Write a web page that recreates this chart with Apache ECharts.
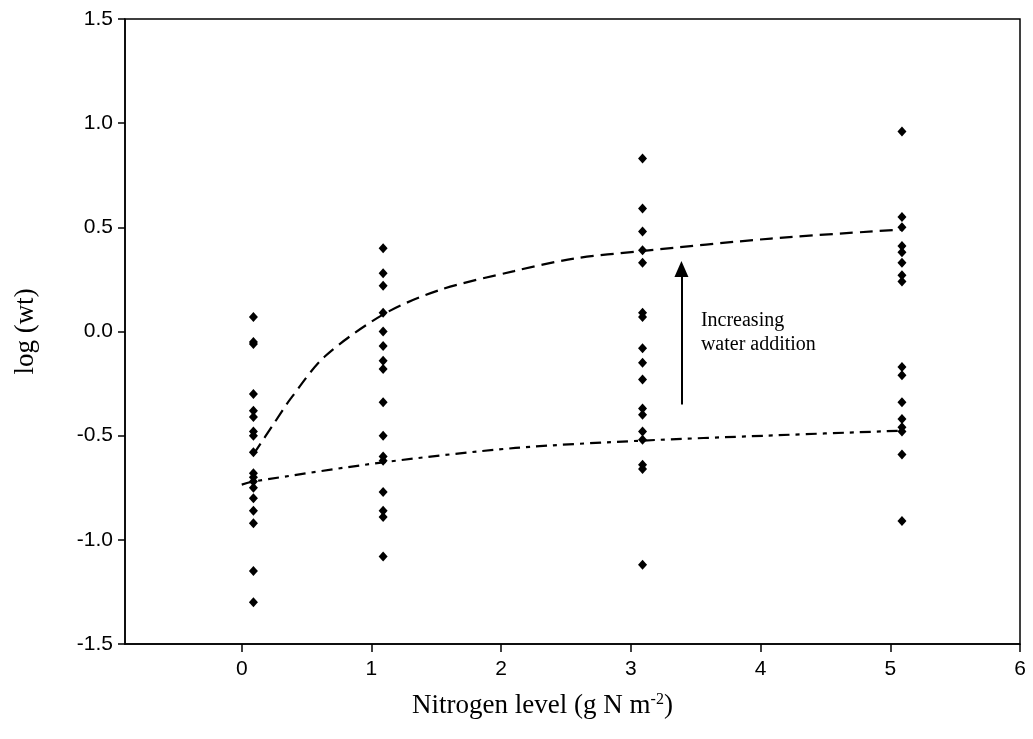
<!DOCTYPE html>
<html>
<head>
<meta charset="utf-8">
<script src="https://cdn.jsdelivr.net/npm/echarts@6/dist/echarts.min.js"></script>
<style>
  html, body { margin: 0; padding: 0; background: #fff; }
  #chart { width: 1033px; height: 739px; }
</style>
</head>
<body>
<div id="chart"></div>
<script>
// nitrogen levels where the points are plotted (slightly offset from integers)
const nLevels = [0.09, 1.09, 3.09, 5.09]

// log(wt) values per nitrogen level
const valuesN0 = [0.07, -0.05, -0.06, -0.30, -0.38, -0.41, -0.48, -0.50, -0.58, -0.68, -0.70, -0.72, -0.75, -0.80, -0.86, -0.92, -1.15, -1.30]
const valuesN1 = [0.40, 0.28, 0.22, 0.09, 0.00, -0.07, -0.14, -0.18, -0.34, -0.50, -0.60, -0.62, -0.77, -0.86, -0.89, -1.08]
const valuesN3 = [0.83, 0.59, 0.48, 0.39, 0.33, 0.09, 0.07, -0.08, -0.15, -0.23, -0.37, -0.40, -0.48, -0.52, -0.64, -0.66, -1.12]
const valuesN5 = [0.96, 0.55, 0.50, 0.41, 0.38, 0.33, 0.27, 0.24, -0.17, -0.21, -0.34, -0.42, -0.46, -0.48, -0.59, -0.91]

// fitted curves
const upperX = [0.09, 0.25, 0.38, 0.64, 1.10, 1.53, 2.10, 2.56, 3.08, 4.08, 5.10]
const upperY = [-0.59, -0.44, -0.32, -0.12, 0.085, 0.20, 0.29, 0.35, 0.386, 0.446, 0.49]
const lowerX = [0.0, 0.09, 1.09, 2.11, 3.08, 4.04, 5.09]
const lowerY = [-0.735, -0.72, -0.628, -0.559, -0.524, -0.50, -0.476]

// arrow annotation
const arrowX = 3.39
const arrowFrom = -0.35
const arrowTo = 0.30
const noteX = 3.54
const noteY = 0.11

const xTicks = [0, 1, 2, 3, 4, 5, 6]

const levelValues = [valuesN0, valuesN1, valuesN3, valuesN5]
const points = []
levelValues.forEach((vals, i) => {
  vals.forEach((v) => points.push([nLevels[i], v]))
})

const chart = echarts.init(document.getElementById("chart"))

const option = {
  animation: false,
  grid: {
    left: 125,
    right: 13,
    top: 19,
    bottom: 95,
    show: true,
    borderColor: "#000",
    borderWidth: 1.5
  },
  xAxis: {
    type: "value",
    min: -0.9,
    max: 6,
    name: "Nitrogen level (g N m{sup|-2})",
    nameLocation: "middle",
    nameGap: 48,
    nameTextStyle: {
      fontFamily: "Liberation Serif",
      fontSize: 27,
      color: "#000",
      padding: [0, 60, 0, 0],
      rich: {
        sup: {
          fontFamily: "Liberation Serif",
          fontSize: 16,
          color: "#000",
          verticalAlign: "top",
          padding: [0, 0, 12, 0]
        }
      }
    },
    splitLine: { show: false },
    axisLine: { onZero: false, lineStyle: { color: "#000", width: 1.5 } },
    axisTick: { customValues: xTicks, length: 8, lineStyle: { color: "#000", width: 1.5 } },
    axisLabel: {
      customValues: xTicks,
      margin: 15,
      fontFamily: "Liberation Sans",
      fontSize: 21,
      color: "#000"
    }
  },
  yAxis: {
    type: "value",
    min: -1.5,
    max: 1.5,
    interval: 0.5,
    name: "log (wt)",
    nameLocation: "middle",
    nameGap: 86,
    nameTextStyle: {
      fontFamily: "Liberation Serif",
      fontSize: 27,
      color: "#000"
    },
    splitLine: { show: false },
    axisLine: { onZero: false, lineStyle: { color: "#000", width: 1.5 } },
    axisTick: { length: 7, lineStyle: { color: "#000", width: 1.5 } },
    axisLabel: {
      margin: 12,
      fontFamily: "Liberation Sans",
      fontSize: 21,
      color: "#000",
      formatter: (v) => v.toFixed(1)
    }
  },
  series: [
    {
      name: "upper fit",
      type: "line",
      data: upperX.map((x, i) => [x, upperY[i]]),
      smooth: 0.3,
      showSymbol: false,
      lineStyle: { color: "#000", width: 2.2, type: [13, 7] },
      z: 2
    },
    {
      name: "lower fit",
      type: "line",
      data: lowerX.map((x, i) => [x, lowerY[i]]),
      smooth: 0.3,
      showSymbol: false,
      lineStyle: { color: "#000", width: 2.2, type: [11, 6, 4, 6] },
      z: 2
    },
    {
      name: "plants",
      type: "scatter",
      data: points,
      symbol: "diamond",
      symbolSize: [9, 10],
      itemStyle: { color: "#000", opacity: 1 },
      z: 3,
      markLine: {
        silent: true,
        symbol: ["none", "triangle"],
        symbolSize: [14, 16],
        label: { show: false },
        lineStyle: { color: "#000", width: 2, type: "solid" },
        data: [
          [
            { coord: [arrowX, arrowFrom] },
            { coord: [arrowX, arrowTo] }
          ]
        ]
      }
    }
  ]
}

chart.setOption(option)

const notePos = chart.convertToPixel({ gridIndex: 0 }, [noteX, noteY])
chart.setOption({
  graphic: [
    {
      type: "text",
      x: notePos[0],
      y: notePos[1],
      style: {
        text: "Increasing\nwater addition",
        fontFamily: "Liberation Serif",
        fontSize: 20,
        lineHeight: 24,
        fill: "#000",
        textAlign: "left",
        textVerticalAlign: "top"
      }
    }
  ]
})
</script>
</body>
</html>
